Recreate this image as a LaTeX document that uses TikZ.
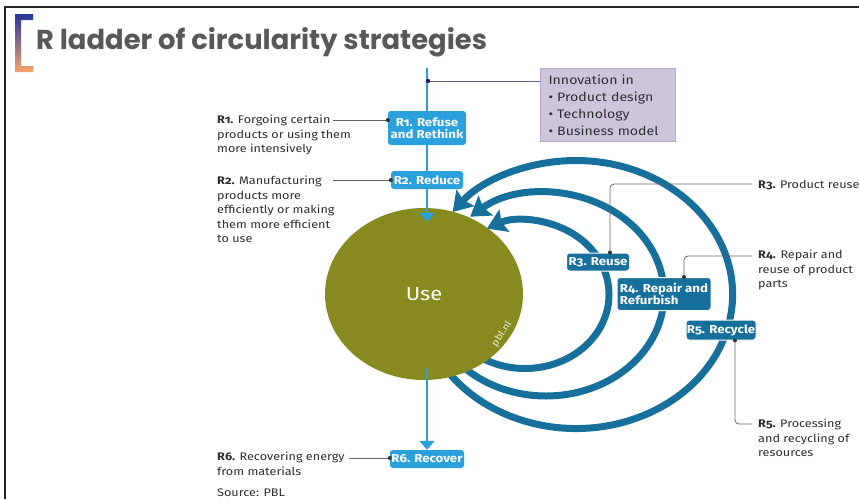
\documentclass[tikz,border=0pt]{standalone}
\usepackage{fontspec}
\setmainfont{Fira Sans}[Numbers=OldStyle, FakeStretch=1.15]
\newfontfamily\titlefont{Poppins}
\usetikzlibrary{arrows.meta,shapes.geometric,calc}
\definecolor{lblue}{HTML}{2AA0DC}
\definecolor{dblue}{HTML}{17709C}
\definecolor{useolive}{HTML}{878A1E}
\definecolor{lav}{HTML}{CDC5DC}
\definecolor{lavb}{HTML}{B5ABC8}
\definecolor{txt}{HTML}{2E2E2E}
\definecolor{ttl}{HTML}{585858}
\definecolor{brtop}{HTML}{24389A}
\definecolor{brmid}{HTML}{C0407F}
\definecolor{brbot}{HTML}{F7A26A}
\definecolor{innoline}{HTML}{6A5A85}
\definecolor{innodot}{HTML}{3A1E5A}
\begin{document}
\begin{tikzpicture}[x=1pt,y=-1pt,
  lab/.style={anchor=north west, align=left, inner sep=0pt, font=\fontsize{11}{14.5}\selectfont, text=txt},
  lbox/.style={fill=lblue, rounded corners=3pt, text=white, font=\fontsize{11.5}{12.5}\selectfont\bfseries, align=center, inner sep=0pt},
  dbox/.style={fill=dblue, draw=white, line width=1pt, rounded corners=3pt, text=white, font=\fontsize{11.5}{12.5}\selectfont\bfseries, align=center, inner sep=0pt},
  conn/.style={draw=black!60, line width=0.8pt},
  dot/.style={fill=black!80, circle, inner sep=0pt, minimum size=4pt},
  loop/.style={draw=dblue, line width=7pt, -{Stealth[length=19pt,width=24pt,inset=3pt]}},
  flow/.style={draw=lblue, line width=2.5pt, -{Triangle[length=9pt,width=15pt]}},
]
\useasboundingbox (0,0) rectangle (859,499);
\fill[white] (0,0) rectangle (859,499);
\draw[line width=2pt, black!85] (5,499) -- (5,7) -- (859,7);
% bracket
\shade[top color=brtop, middle color=brmid, bottom color=brbot]
  (15,14) -- (33,14) -- (33,20) -- (21,20) -- (21,66) -- (33,66) -- (33,72) -- (15,72) -- cycle;
\node[anchor=base west, inner sep=0pt, text=ttl, font=\titlefont\fontsize{27.4}{30}\selectfont\bfseries] (title) at (36,49) {R ladder of circularity strategies};

% loops
\draw[loop] ([shift={(150:156.6 and 134)}]576,294.5) arc[start angle=150, end angle=-142, x radius=156.6, y radius=134];
\draw[loop] ([shift={(135:118 and 101.5)}]546,294.5) arc[start angle=135, end angle=-130, x radius=118, y radius=101.5];
\draw[loop] ([shift={(125:84 and 74)}]525,294.5) arc[start angle=125, end angle=-117, x radius=84, y radius=74];

% use circle
\node[ellipse, fill=useolive, minimum width=198pt, minimum height=172pt, inner sep=0pt] (use) at (424,294) {};
\node[text=white, font=\fontsize{19}{20}\selectfont, inner sep=0pt] (usetext) at (use.center) {Use};
\node[rotate=57, text=white!85!useolive, font=\fontsize{9.5}{10}\selectfont, inner sep=0pt] (pbl) at (502,334) {pbl.nl};

% main flow
\coordinate (ltop) at (427,68);
\node[lbox, minimum width=74pt, minimum height=18pt] (r6) at (427,459) {R6. Recover};
\draw[flow] (ltop) -- ($(ltop |- use.north)+(0,14)$);
\draw[flow] ($(ltop |- use.south)+(0,-12)$) -- (r6.north);

% boxes
\node[lbox, minimum width=78pt, minimum height=34pt] (r1) at (427,128) {R1. Refuse\\and Rethink};
\node[lbox, minimum width=72pt, minimum height=18pt] (r2) at (427,180) {R2. Reduce};
\node[dbox, minimum width=63pt, minimum height=18pt] (r3) at (598,262) {R3. Reuse};
\node[dbox, minimum width=94pt, minimum height=33pt, align=left] (r4) at (664,294) {R4. Repair and\\Refurbish};
\node[dbox, minimum width=70pt, minimum height=20pt] (r5) at (721,330) {R5. Recycle};

% innovation
\node[fill=lav, draw=lavb, line width=1pt, anchor=north west, minimum height=73pt, text width=119pt, inner xsep=8pt, inner ysep=0pt, align=left, font=\fontsize{12.3}{17}\selectfont, text=txt] (inno) at (540,68) {Innovation in\\• Product design\\• Technology\\• Business model};
\coordinate (idot) at (428,81);
\draw[innoline, line width=0.9pt] (idot) -- (idot -| inno.west);
\fill[innodot] (idot) circle (2.2);

% left labels
\node[lab] (l1) at (217,115) {\textbf{R1.} Forgoing certain\\products or using them\\more intensively};
\coordinate (c1) at (333,120);
\draw[conn] (c1) -- (c1 -| r1.west);
\node[dot] at (c1 -| r1.west) {};

\node[lab] (l2) at (217,176) {\textbf{R2.} Manufacturing\\products more\\efficiently or making\\them more efficient\\to use};
\coordinate (c2) at (333,180);
\draw[conn] (c2) -- (c2 -| r2.west);
\node[dot] at (c2 -| r2.west) {};

\node[lab] (l6) at (217,452) {\textbf{R6.} Recovering energy\\from materials};
\coordinate (c6) at (349,458);
\draw[conn] (c6) -- (c6 -| r6.west);
\node[dot] at (c6 -| r6.west) {};

\node[lab] (src) at (217,489) {Source: PBL};

% right labels
\node[lab] (l3) at (758,180) {\textbf{R3.} Product reuse};
\coordinate (c3) at (752,184);
\draw[conn, rounded corners=4pt] ([xshift=12pt]r3.north) |- (c3);
\node[dot] at ([xshift=12pt]r3.north) {};

\node[lab] (l4) at (758,250) {\textbf{R4.} Repair and\\reuse of product\\parts};
\coordinate (c4) at (752,256);
\draw[conn, rounded corners=4pt] ([xshift=20pt]r4.north) |- (c4);
\node[dot] at ([xshift=20pt]r4.north) {};

\node[lab] (l5) at (758,419) {\textbf{R5.} Processing\\and recycling of\\resources};
\coordinate (c5) at (752,424);
\draw[conn, rounded corners=4pt] ([xshift=14pt]r5.south) |- (c5);
\node[dot] at ([xshift=14pt]r5.south) {};
\end{tikzpicture}
\end{document}
